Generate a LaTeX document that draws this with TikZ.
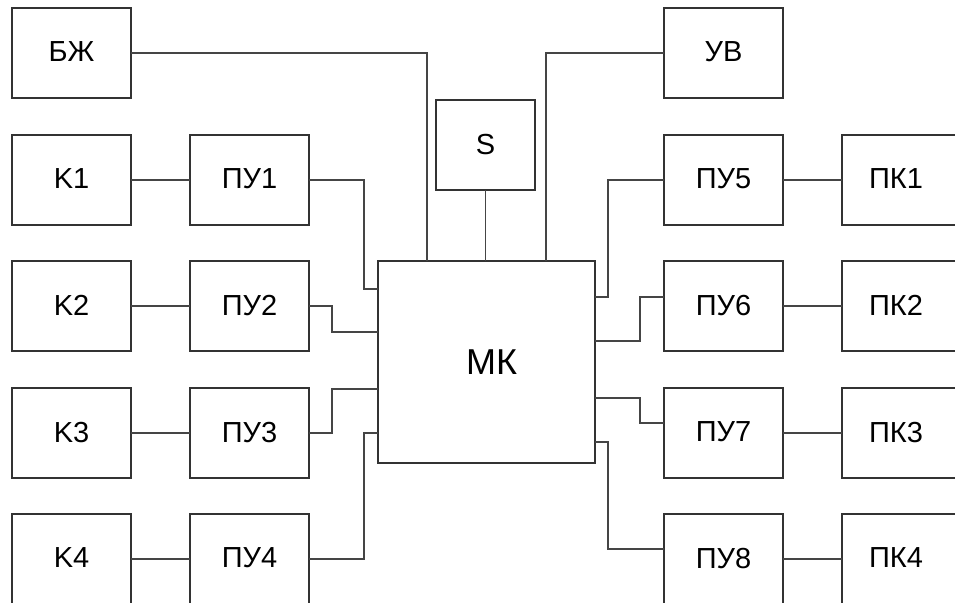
\documentclass[tikz,border=0pt]{standalone}
\usepackage{fontspec}
\setmainfont{Liberation Sans}
\definecolor{boxline}{HTML}{333333}
\definecolor{wire}{HTML}{454545}
\tikzset{
  blk/.style={draw=boxline, line width=1.9pt, rectangle, anchor=north west,
    minimum width=119pt, minimum height=90pt, inner sep=0pt, outer sep=0pt,
    font=\fontsize{29}{34}\selectfont},
  wr/.style={draw=wire, line width=1.9pt}
}
\begin{document}
\begin{tikzpicture}[x=1pt,y=-1pt]
\useasboundingbox (0,0) rectangle (955,602);
\clip (0,0) rectangle (955,602);
\fill[white] (0,0) rectangle (955,602);
% left column
\node[blk] (BZh) at (12,8) {\raisebox{2pt}{БЖ}};
\node[blk] (K1) at (12,135) {\raisebox{2pt}{K1}};
\node[blk] (K2) at (12,261) {\raisebox{2pt}{K2}};
\node[blk] (K3) at (12,388) {\raisebox{2pt}{K3}};
\node[blk] (K4) at (12,514) {\raisebox{2pt}{K4}};
% PU left
\node[blk] (PU1) at (190,135) {\raisebox{2pt}{ПУ1}};
\node[blk] (PU2) at (190,261) {\raisebox{2pt}{ПУ2}};
\node[blk] (PU3) at (190,388) {\raisebox{2pt}{ПУ3}};
\node[blk] (PU4) at (190,514) {\raisebox{2pt}{ПУ4}};
% centre
\node[blk, minimum width=99pt] (S) at (436,100) {\raisebox{2pt}{S}};
\node[blk, minimum width=217pt, minimum height=202pt, font=\fontsize{36}{42}\selectfont] (MK) at (378,261) {\raisebox{-6pt}{\hspace*{10pt}МК}};
% right
\node[blk] (UV) at (664,8) {\raisebox{2pt}{УВ}};
\node[blk] (PU5) at (664,135) {\raisebox{2pt}{ПУ5}};
\node[blk] (PU6) at (664,261) {\raisebox{2pt}{ПУ6}};
\node[blk] (PU7) at (664,388) {\raisebox{2pt}{ПУ7}};
\node[blk] (PU8) at (664,514) {\raisebox{2pt}{ПУ8}};
\node[blk] (PK1) at (842,135) {\raisebox{2pt}{\hspace*{-11pt}ПК1}};
\node[blk] (PK2) at (842,261) {\raisebox{2pt}{\hspace*{-11pt}ПК2}};
\node[blk] (PK3) at (842,388) {\raisebox{2pt}{\hspace*{-11pt}ПК3}};
\node[blk] (PK4) at (842,514) {\raisebox{2pt}{\hspace*{-11pt}ПК4}};
% wires
\draw[wr] (BZh.east) -| (427,0 |- MK.north);
\draw[wr] (UV.west) -| (546,0 |- MK.north);
\draw[wr] (S.south) -- (MK.north -| S.south);
\draw[wr] (K1) -- (PU1);
\draw[wr] (K2) -- (PU2);
\draw[wr] (K3) -- (PU3);
\draw[wr] (K4) -- (PU4);
\draw[wr] (PU5) -- (PK1);
\draw[wr] (PU6) -- (PK2);
\draw[wr] (PU7) -- (PK3);
\draw[wr] (PU8) -- (PK4);
\draw[wr] (PU1.east) -| (364,289) -- (MK.west |- 0,289);
\draw[wr] (PU2.east) -| (332,332) -- (MK.west |- 0,332);
\draw[wr] (PU3.east) -| (332,389) -- (MK.west |- 0,389);
\draw[wr] (PU4.east) -| (364,433) -- (MK.west |- 0,433);
\draw[wr] (PU5.west) -| (608,297) -- (MK.east |- 0,297);
\draw[wr] (PU6.west |- 0,297) -| (640,341) -- (MK.east |- 0,341);
\draw[wr] (MK.east |- 0,398) -| (640,423) -- (PU7.west |- 0,423);
\draw[wr] (MK.east |- 0,442) -| (608,549) -- (PU8.west |- 0,549);
\end{tikzpicture}
\end{document}
